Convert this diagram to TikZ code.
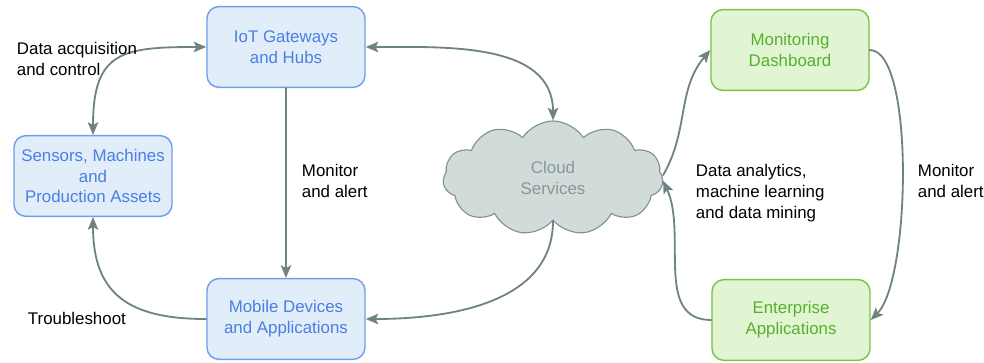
\documentclass[tikz,border=0pt]{standalone}
\usepackage{fontspec}
\setmainfont{Liberation Sans}
\usetikzlibrary{shapes.symbols, arrows.meta}
\definecolor{bluetext}{HTML}{4A7FE3}
\definecolor{blueline}{HTML}{6D9EEB}
\definecolor{bluefill}{HTML}{E2EDFA}
\definecolor{greentext}{HTML}{56B030}
\definecolor{greenline}{HTML}{79C147}
\definecolor{greenfill}{HTML}{E2F5D2}
\definecolor{cloudfill}{HTML}{D1DBDA}
\definecolor{cloudline}{HTML}{7E9391}
\definecolor{cloudtext}{HTML}{889896}
\definecolor{arrowc}{HTML}{6F8482}
\tikzset{
  bluebox/.style={draw=blueline, fill=bluefill, text=bluetext, rounded corners=0.3cm, line width=1pt, minimum width=3.95cm, minimum height=2.02cm, align=center},
  greenbox/.style={draw=greenline, fill=greenfill, text=greentext, rounded corners=0.3cm, line width=1pt, minimum width=3.95cm, minimum height=2.02cm, align=center},
  flow/.style={draw=arrowc, line width=1.3pt, ->},
  lbl/.style={anchor=west, align=left, text=black}
}
\begin{document}
\begin{tikzpicture}[x=0.025cm, y=-0.025cm, font=\fontsize{12}{14.9}\selectfont, line join=round, line cap=round, >={Stealth[length=9pt, width=7.5pt, inset=2pt]}]
				\useasboundingbox (0,0) rectangle (984,362);
				\node[bluebox] (iot) at (286,47) {IoT Gateways\\and Hubs};
				\node[bluebox] (sens) at (93,176) {Sensors, Machines\\and\\Production Assets};
				\node[bluebox] (mob) at (286,319) {Mobile Devices\\and Applications};
				\node[cloud, cloud puffs=11, cloud puff arc=115, aspect=2, draw=cloudline, fill=cloudfill, text=cloudtext, line width=0.8pt, minimum width=5.5cm, minimum height=2.85cm, align=center] (cloud) at (553,178) {Cloud\\Services};
				\node[greenbox] (mon) at (790,50) {Monitoring\\Dashboard};
				\node[greenbox] (ent) at (791,320) {Enterprise\\Applications};
				% links
				\draw[flow, <->] (iot.west) to[out=180, in=90, looseness=1.5] (sens.north);
				\draw[flow, <->] (iot.east) to[out=0, in=90] (cloud.north);
				\draw[flow] (iot.south) -- (mob.north);
				\draw[flow] (mob.west) to[out=180, in=-90, looseness=1.3] (sens.south);
				\draw[flow] (cloud.south) to[out=-90, in=0] (mob.east);
				\draw[flow] ([yshift=2pt]cloud.east) to[out=60, in=-130] (mon.west);
				\draw[flow] (ent.west) to[out=180, in=-65] ([yshift=-2pt]cloud.east);
				\draw[flow] (mon.east) .. controls +(45,0) and +(40,-40) .. (ent.east);
				% labels
				\node[lbl] (acq) at (12,59) {Data acquisition\\and control};
				\node[lbl] (mon1) at (297,181) {Monitor\\and alert};
				\node[lbl] (trb) at (23,318) {Troubleshoot};
				\node[lbl] (ana) at (691,193) {Data analytics,\\machine learning\\and data mining};
				\node[lbl] (mon2) at (913,181) {Monitor\\and alert};
			\end{tikzpicture}
\end{document}
